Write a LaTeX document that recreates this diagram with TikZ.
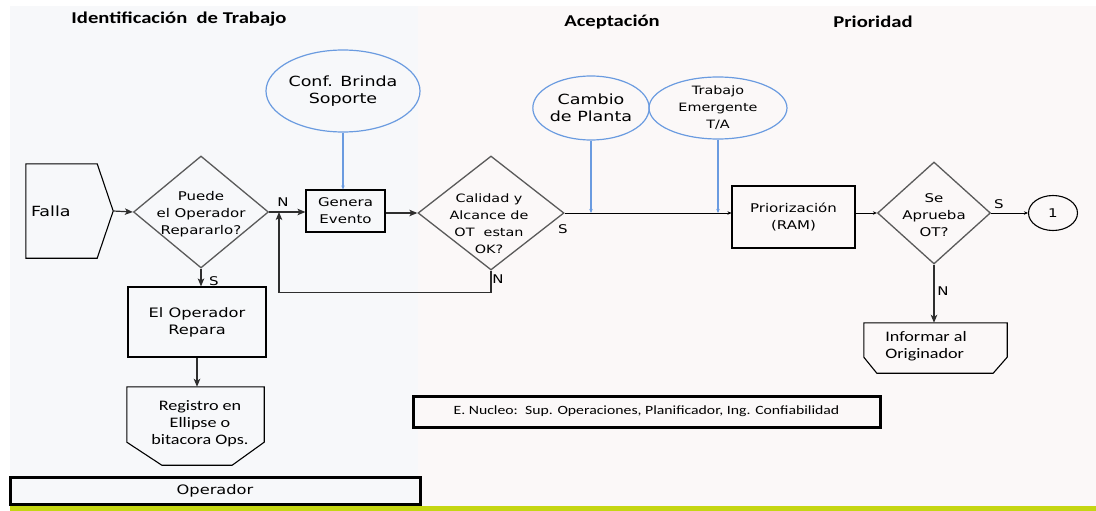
\documentclass[tikz,border=0pt]{standalone}
\usepackage{fontspec}
\usetikzlibrary{shapes.geometric,arrows.meta,calc}
\newfontfamily\vfont[FakeStretch=1.25]{DejaVu Sans}
\newfontfamily\cfont[FakeStretch=1.25]{Carlito}
\definecolor{leftbg}{HTML}{F7F8FA}
\definecolor{rightbg}{HTML}{FBF8F8}
\definecolor{ovalblue}{HTML}{6A9BE0}
\definecolor{lime}{HTML}{C5D612}
\definecolor{diagray}{HTML}{5A5A5A}
\definecolor{linegray}{HTML}{2E2E2E}
\newcommand{\vf}[1]{\vfont\fontsize{#1}{17}\selectfont}
\newcommand{\cf}[1]{\cfont\fontsize{#1}{17}\selectfont}
\tikzset{
  dia/.style={diamond, draw=diagray, line width=1.3pt, inner sep=0pt},
  box/.style={rectangle, draw=black, line width=1.1pt, inner sep=0pt, align=center},
  oval/.style={ellipse, draw=ovalblue, line width=1.2pt, inner sep=0pt, align=center},
  plain/.style={inner sep=0pt, align=center},
  outline/.style={draw=black, line width=1.1pt},
  lane/.style={rectangle, draw=black, line width=3pt, inner sep=0pt},
  flow/.style={draw=linegray, line width=1.2pt, -{Stealth[length=8pt,width=6.5pt,inset=2pt]}},
  tiny/.style={draw=black, line width=1pt, -{Stealth[length=4pt,width=3.5pt]}},
  bluearr/.style={draw=ovalblue, line width=1.1pt, -{Stealth[length=4pt,width=3.5pt]}},
  lbl/.style={inner sep=0pt, font=\vf{12}},
  title/.style={inner sep=0pt, font=\cfont\bfseries\fontsize{16.5}{17}\selectfont}
}
\begin{document}
\begin{tikzpicture}[x=1pt,y=-1pt]
\useasboundingbox (0,0) rectangle (1096,511);
% swim lane backgrounds
\fill[white] (0,0) rectangle (1096,511);
\fill[leftbg] (10,6) rectangle (418,506);
\fill[rightbg] (418,6) rectangle (1096,506);
\fill[lime] (10,506) rectangle (1096,511);

% lane titles
\node[title] (t1) at (179,19) {Identificación\ \ de Trabajo};
\node[title] (t2) at (612,22) {Aceptación};
\node[title] (t3) at (873,22) {Prioridad};

% start: Falla
\node[plain, minimum width=87pt, minimum height=94pt] (falla) at (69.5,211) {};
\draw[outline] (falla.north west) -- ([xshift=-16pt]falla.north east) -- (falla.east)
  -- ([xshift=-16pt]falla.south east) -- (falla.south west) -- cycle;
\node[plain, anchor=west, font=\vf{14}] (fallatxt) at ([xshift=5pt]falla.west) {Falla};

% decisions
\node[dia, minimum width=135pt, minimum height=112pt] (d1) at (201,212) {};
\node[plain, font=\vf{12}] (d1t) at (201,214) {Puede\\el Operador\\Repararlo?};
\node[dia, minimum width=146pt, minimum height=114pt] (d2) at (491,213) {};
\node[plain, font=\vf{11.5}] (d2t) at (489,224) {Calidad y\\Alcance de\\OT\ \ estan\\OK?};
\node[dia, minimum width=113pt, minimum height=102pt] (d3) at (934,213) {};
\node[plain, font=\vf{12}] (d3t) at (934,215) {Se\\Aprueba\\OT?};

% process boxes
\node[box, minimum width=79pt, minimum height=42pt, font=\vf{12}] (gen) at (345.5,211) {Genera\\Evento};
\node[box, minimum width=138pt, minimum height=70pt, font=\vf{13}] (rep) at (197,322) {El Operador\\Repara};
\node[box, minimum width=123pt, minimum height=62pt, font=\vf{12}] (prior) at (793.5,217) {Priorización\\(RAM)};

% external inputs
\node[oval, minimum width=154pt, minimum height=82pt, font=\vf{14}] (conf) at (343,91) {Conf. Brinda\\Soporte};
\node[oval, minimum width=116pt, minimum height=64pt, font=\vf{14}] (cambio) at (591,108) {Cambio\\de Planta};
\node[oval, minimum width=138pt, minimum height=62pt, font=\vf{11.5}] (trab) at (718,108) {Trabajo\\Emergente\\T/A};

% connector
\node[ellipse, draw=black, line width=1.1pt, minimum width=49pt, minimum height=35pt, inner sep=0pt, font=\vf{12}] (c1) at (1053,213) {1};

% chamfered outputs
\node[plain, minimum width=137pt, minimum height=78pt] (reg) at (195.5,426) {};
\draw[outline] (reg.north west) -- (reg.north east) -- ([yshift=23pt]reg.south east)
  -- ([xshift=-32pt]reg.south east) -- ([xshift=35pt]reg.south west)
  -- ([yshift=23pt]reg.south west) -- cycle;
\node[plain, font=\cf{14.5}] (regt) at (200,424) {Registro en\\Ellipse o\\bitacora Ops.};

\node[plain, minimum width=143pt, minimum height=50pt] (inf) at (935.5,348) {};
\draw[outline] (inf.north west) -- (inf.north east) -- ([yshift=16pt]inf.south east)
  -- ([xshift=-14pt]inf.south east) -- ([xshift=13pt]inf.south west)
  -- ([yshift=16pt]inf.south west) -- cycle;
\node[plain, font=\cf{14.5}, align=left] (inft) at (926,346) {Informar al\\Originador};

% role boxes
\node[lane, minimum width=467pt, minimum height=31pt, font=\cf{12.6}] (nucleo) at (646.5,411.5) {E. Nucleo:\ \ Sup. Operaciones, Planificador, Ing. Confiabilidad};
\node[lane, minimum width=410pt, minimum height=27pt, font=\vf{13}] (oper) at (215,490.5) {Operador};

% flow
\coordinate (njoin) at (279,212);
\draw[flow] (falla.east) -- (d1.west);
\draw[flow] (d1.east) -- (d1.east -| gen.west);
\node[lbl] (ln1) at (283,202) {N};
\draw[flow] (gen.east |- d2.west) -- (d2.west);
\draw[flow] (d2.south) -- ++(0,22) -| (njoin);
\node[lbl] (ln2) at (498,279) {N};
\node[lbl] (ls2) at (563,229) {S};
\draw[flow] (d1.south) -- (d1.south |- rep.north);
\node[lbl] (ls1) at (214,281) {S};
\draw[flow] (rep.south) -- (rep.south |- reg.north);
\draw[tiny] (d2.east) -- (d2.east -| prior.west);
\draw[tiny] (prior.east |- d3.west) -- (d3.west);
\draw[tiny] (d3.east) -- (c1.west);
\node[lbl] (ls3) at (999,204) {S};
\draw[flow] (d3.south) -- (d3.south |- inf.north);
\node[lbl] (ln3) at (943,291) {N};

% supporting inputs
\draw[bluearr] (conf.south) -- (conf.south |- gen.north);
\draw[bluearr] (cambio.south) -- (cambio.south |- d2.east);
\draw[bluearr] (trab.south) -- (trab.south |- d2.east);
\end{tikzpicture}
\end{document}
